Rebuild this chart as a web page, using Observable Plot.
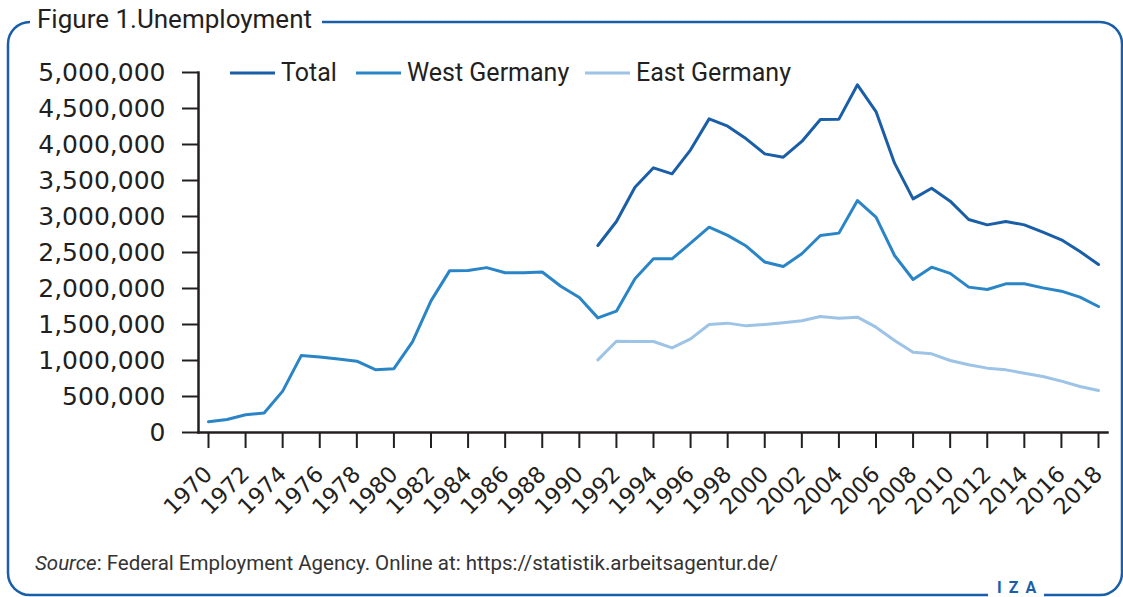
<!DOCTYPE html>
<html><head><meta charset="utf-8">
<script src="https://cdn.jsdelivr.net/npm/d3@7"></script>
<script src="https://cdn.jsdelivr.net/npm/@observablehq/plot@0.6"></script>
<style>
html,body{margin:0;padding:0;background:#fff;}
#wrap{position:relative;width:1123px;height:597px;overflow:hidden;background:#fff;}
#chart{position:absolute;left:0;top:0;}
#deco{position:absolute;left:0;top:0;pointer-events:none;}
</style></head><body>
<div id="wrap"><div id="chart"></div><svg id="deco" width="1123" height="597"></svg></div>
<script>
// ---- data ----
const westYears = [1970,1971,1972,1973,1974,1975,1976,1977,1978,1979,1980,1981,1982,1983,1984,1985,1986,1987,1988,1989,1990,1991,1992,1993,1994,1995,1996,1997,1998,1999,2000,2001,2002,2003,2004,2005,2006,2007,2008,2009,2010,2011,2012,2013,2014,2015,2016,2017,2018];
const westValues = [148000,180000,246000,270000,575000,1068000,1050000,1020000,990000,873000,886000,1260000,1828000,2245000,2250000,2290000,2218000,2220000,2230000,2032000,1875000,1592000,1685000,2134000,2412000,2412000,2630000,2852000,2738000,2590000,2368000,2306000,2483000,2736000,2769000,3222000,2991000,2458000,2125000,2296000,2210000,2019000,1986000,2065000,2065000,2009000,1963000,1880000,1750000];
const unifiedYears = [1991,1992,1993,1994,1995,1996,1997,1998,1999,2000,2001,2002,2003,2004,2005,2006,2007,2008,2009,2010,2011,2012,2013,2014,2015,2016,2017,2018];
const totalValues = [2597000,2931000,3407000,3676000,3593000,3926000,4356000,4255000,4079000,3870000,3824000,4042000,4347000,4352000,4829000,4458000,3741000,3245000,3393000,3213000,2958000,2884000,2931000,2884000,2782000,2676000,2514000,2333000];
const eastValues = [1009000,1268000,1264000,1264000,1176000,1301000,1500000,1519000,1481000,1500000,1523000,1551000,1611000,1588000,1602000,1463000,1278000,1116000,1093000,1000000,940000,894000,870000,824000,778000,713000,639000,583000];
const seriesNames = ["Total","West Germany","East Germany"];
const seriesColors = ["#1a5ea8","#2a85c7","#9dc3e6"];
const xTicks = [1970,1972,1974,1976,1978,1980,1982,1984,1986,1988,1990,1992,1994,1996,1998,2000,2002,2004,2006,2008,2010,2012,2014,2016,2018];
const yTicks = [0,500000,1000000,1500000,2000000,2500000,3000000,3500000,4000000,4500000,5000000];
const titleText = "Figure 1.Unemployment";
const sourceLabel = "Source";
const sourceText = ": Federal Employment Agency. Online at: https://statistik.arbeitsagentur.de/";
const brandText = "IZA";

// ---- table ----
const rows = [
  ...eastValues.map((v,i)=>({series:"East Germany",year:unifiedYears[i],value:v})),
  ...westValues.map((v,i)=>({series:"West Germany",year:westYears[i],value:v})),
  ...totalValues.map((v,i)=>({series:"Total",year:unifiedYears[i],value:v}))
];

const ink = "#231f20";
const chart = Plot.plot({
  width:1123, height:530,
  marginTop:72, marginBottom:98, marginLeft:198, marginRight:16,
  insetLeft:10, insetRight:9,
  style:{fontFamily:"DejaVu Sans", fontSize:"25px", color:ink, background:"transparent", overflow:"visible"},
  x:{domain:[1970,2018]},
  y:{domain:[0,5000000]},
  color:{domain:seriesNames, range:seriesColors},
  marks:[
    Plot.axisY({ticks:yTicks, tickSize:16, tickPadding:17, tickFormat:d3.format(","), label:null, fontSize:25, strokeWidth:2}),
    Plot.axisX({ticks:xTicks, tickSize:16, tickPadding:22, tickRotate:-45, tickFormat:d=>String(d), label:null, fontSize:22.5, strokeWidth:2}),
    Plot.frame({anchor:"left", strokeWidth:2.5}),
    Plot.frame({anchor:"bottom", strokeWidth:2.5}),
    Plot.line(rows,{x:"year",y:"value",z:"series",stroke:"series",strokeWidth:3})
  ]
});
document.getElementById("chart").appendChild(chart);

// ---- decoration: frame, title, legend, source, brand ----
const deco = d3.select("#deco");
const blue = "#1a5ea8";
deco.append("rect").attr("x",8).attr("y",22).attr("width",1114).attr("height",573).attr("rx",22)
  .attr("fill","none").attr("stroke",blue).attr("stroke-width",2.5);
deco.append("rect").attr("x",30).attr("y",8).attr("width",292).attr("height",28).attr("fill","#fff");
deco.append("text").attr("x",37).attr("y",28).attr("font-family","Roboto").attr("font-size",26)
  .attr("fill",ink).text(titleText);
// legend
const legX = [230,356,585];
seriesNames.forEach((s,i)=>{
  deco.append("line").attr("x1",legX[i]).attr("x2",legX[i]+45).attr("y1",73).attr("y2",73)
    .attr("stroke",seriesColors[i]).attr("stroke-width",3);
  deco.append("text").attr("x",legX[i]+51).attr("y",81).attr("font-family","Roboto").attr("font-size",25)
    .attr("fill",ink).text(s);
});
// source
const src = deco.append("text").attr("x",35).attr("y",570).attr("font-family","Roboto").attr("font-size",20.5).attr("fill","#333");
src.append("tspan").attr("font-style","italic").text(sourceLabel);
src.append("tspan").text(sourceText);
// brand
deco.append("rect").attr("x",988).attr("y",585).attr("width",56).attr("height",14).attr("fill","#fff");
deco.append("text").attr("x",997).attr("y",593).attr("font-family","Roboto").attr("font-weight","bold")
  .attr("font-size",16).attr("letter-spacing",7).attr("fill",blue).text(brandText);
</script>
</body></html>
